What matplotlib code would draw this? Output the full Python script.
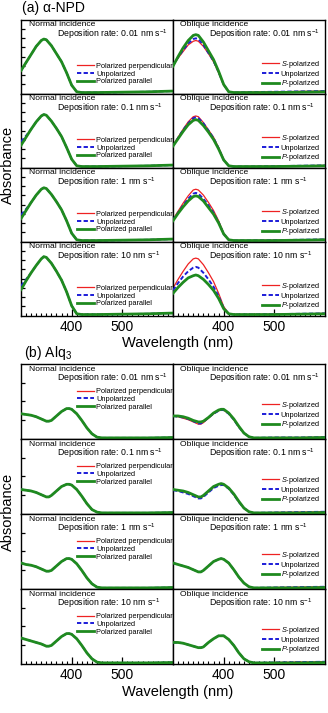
import numpy as np
import matplotlib
matplotlib.use("Agg")
import matplotlib.pyplot as plt

plt.rcParams['font.family'] = ['Liberation Sans', 'DejaVu Sans']
plt.rcParams['mathtext.fontset'] = 'custom'
plt.rcParams['mathtext.rm'] = 'Liberation Sans'
plt.rcParams['mathtext.it'] = 'Liberation Sans:italic'

# ---------------- data ----------------
rates = ["0.01", "0.1", "1", "10"]

normal_labels = ["Polarized perpendicular", "Unpolarized", "Polarized parallel"]
oblique_labels = ["$S$-polarized", "Unpolarized", "$P$-polarized"]

# alpha-NPD wavelengths (nm)
wl_npd = [300, 310, 320, 330, 340, 345, 350, 360, 370, 380, 390, 400, 410, 420, 450, 500, 550, 600]

# alpha-NPD, normal incidence (perpendicular, unpolarized, parallel) per deposition rate
npd_norm_perp = [
    [0.31, 0.42, 0.53, 0.64, 0.72, 0.74, 0.73, 0.65, 0.54, 0.43, 0.28, 0.11, 0.02, 0.01, 0.01, 0.015, 0.02, 0.03],
    [0.30, 0.41, 0.52, 0.62, 0.70, 0.72, 0.71, 0.63, 0.53, 0.42, 0.27, 0.11, 0.02, 0.01, 0.01, 0.015, 0.02, 0.03],
    [0.31, 0.42, 0.53, 0.63, 0.71, 0.73, 0.72, 0.64, 0.54, 0.43, 0.28, 0.11, 0.02, 0.01, 0.01, 0.015, 0.02, 0.03],
    [0.36, 0.47, 0.58, 0.68, 0.77, 0.80, 0.79, 0.71, 0.60, 0.48, 0.32, 0.13, 0.02, 0.01, 0.01, 0.015, 0.02, 0.03],
]
npd_norm_unpol = [
    [0.31, 0.42, 0.53, 0.64, 0.72, 0.74, 0.73, 0.65, 0.54, 0.43, 0.28, 0.11, 0.02, 0.01, 0.01, 0.015, 0.02, 0.03],
    [0.35, 0.43, 0.52, 0.62, 0.70, 0.72, 0.71, 0.63, 0.53, 0.42, 0.27, 0.11, 0.02, 0.01, 0.01, 0.015, 0.02, 0.03],
    [0.36, 0.44, 0.53, 0.63, 0.71, 0.73, 0.72, 0.64, 0.54, 0.43, 0.28, 0.11, 0.02, 0.01, 0.01, 0.015, 0.02, 0.03],
    [0.40, 0.49, 0.58, 0.68, 0.77, 0.80, 0.79, 0.71, 0.60, 0.48, 0.32, 0.13, 0.02, 0.01, 0.01, 0.015, 0.02, 0.03],
]
npd_norm_par = [
    [0.31, 0.42, 0.53, 0.64, 0.72, 0.74, 0.73, 0.65, 0.54, 0.43, 0.28, 0.11, 0.02, 0.01, 0.01, 0.015, 0.02, 0.03],
    [0.30, 0.41, 0.52, 0.62, 0.70, 0.72, 0.71, 0.63, 0.53, 0.42, 0.27, 0.11, 0.02, 0.01, 0.01, 0.015, 0.02, 0.03],
    [0.31, 0.42, 0.53, 0.63, 0.71, 0.73, 0.72, 0.64, 0.54, 0.43, 0.28, 0.11, 0.02, 0.01, 0.01, 0.015, 0.02, 0.03],
    [0.35, 0.47, 0.58, 0.68, 0.77, 0.80, 0.79, 0.71, 0.60, 0.48, 0.32, 0.13, 0.02, 0.01, 0.01, 0.015, 0.02, 0.03],
]

# alpha-NPD, oblique incidence (S, unpolarized, P)
npd_obl_s = [
    [0.38, 0.48, 0.57, 0.66, 0.71, 0.72, 0.71, 0.64, 0.54, 0.43, 0.28, 0.11, 0.02, 0.01, 0.015, 0.02, 0.025, 0.03],
    [0.30, 0.41, 0.52, 0.62, 0.69, 0.70, 0.69, 0.61, 0.51, 0.41, 0.27, 0.11, 0.02, 0.01, 0.01, 0.015, 0.02, 0.025],
    [0.30, 0.41, 0.52, 0.62, 0.70, 0.71, 0.70, 0.63, 0.53, 0.42, 0.28, 0.11, 0.02, 0.01, 0.01, 0.015, 0.02, 0.025],
    [0.37, 0.49, 0.60, 0.70, 0.77, 0.78, 0.77, 0.69, 0.58, 0.46, 0.30, 0.12, 0.02, 0.01, 0.01, 0.015, 0.02, 0.025],
]
npd_obl_unpol = [
    [0.38, 0.49, 0.59, 0.68, 0.74, 0.75, 0.74, 0.66, 0.55, 0.44, 0.29, 0.12, 0.02, 0.01, 0.015, 0.02, 0.025, 0.03],
    [0.29, 0.40, 0.51, 0.60, 0.67, 0.68, 0.67, 0.60, 0.50, 0.40, 0.26, 0.10, 0.02, 0.01, 0.01, 0.015, 0.02, 0.025],
    [0.29, 0.39, 0.49, 0.58, 0.65, 0.66, 0.65, 0.58, 0.49, 0.39, 0.26, 0.10, 0.02, 0.01, 0.01, 0.015, 0.02, 0.025],
    [0.34, 0.44, 0.53, 0.60, 0.65, 0.66, 0.65, 0.58, 0.49, 0.39, 0.26, 0.10, 0.02, 0.01, 0.01, 0.015, 0.02, 0.025],
]
npd_obl_p = [
    [0.37, 0.50, 0.62, 0.72, 0.79, 0.80, 0.79, 0.70, 0.58, 0.46, 0.30, 0.12, 0.02, 0.01, 0.01, 0.01, 0.015, 0.02],
    [0.29, 0.39, 0.49, 0.58, 0.64, 0.65, 0.64, 0.57, 0.48, 0.38, 0.25, 0.10, 0.02, 0.01, 0.01, 0.01, 0.015, 0.02],
    [0.28, 0.38, 0.47, 0.55, 0.61, 0.62, 0.61, 0.55, 0.46, 0.37, 0.25, 0.10, 0.02, 0.01, 0.01, 0.01, 0.015, 0.02],
    [0.30, 0.38, 0.45, 0.51, 0.54, 0.55, 0.54, 0.49, 0.42, 0.34, 0.23, 0.09, 0.02, 0.01, 0.01, 0.01, 0.015, 0.02],
]

# Alq3 wavelengths (nm)
wl_alq = [300, 310, 320, 330, 340, 350, 355, 360, 370, 380, 390, 395, 400, 410, 420, 430, 440, 450, 460, 500, 550, 600]

# Alq3 normal incidence (all three polarizations coincide)
alq_norm = [
    [0.33, 0.32, 0.31, 0.29, 0.26, 0.23, 0.23, 0.24, 0.30, 0.36, 0.40, 0.40, 0.39, 0.33, 0.24, 0.14, 0.06, 0.015, 0.005, 0.005, 0.005, 0.01],
    [0.32, 0.31, 0.30, 0.28, 0.25, 0.22, 0.22, 0.24, 0.30, 0.36, 0.39, 0.39, 0.38, 0.32, 0.23, 0.13, 0.05, 0.015, 0.005, 0.005, 0.005, 0.01],
    [0.34, 0.32, 0.31, 0.29, 0.26, 0.23, 0.23, 0.24, 0.30, 0.36, 0.40, 0.40, 0.39, 0.33, 0.24, 0.14, 0.06, 0.015, 0.005, 0.005, 0.005, 0.01],
    [0.34, 0.32, 0.30, 0.28, 0.26, 0.23, 0.23, 0.24, 0.30, 0.36, 0.40, 0.40, 0.39, 0.33, 0.24, 0.14, 0.06, 0.015, 0.005, 0.005, 0.005, 0.01],
]

# Alq3 oblique incidence (S, unpolarized, P)
alq_obl_s = [
    [0.30, 0.29, 0.27, 0.25, 0.22, 0.19, 0.19, 0.21, 0.27, 0.33, 0.37, 0.38, 0.38, 0.33, 0.25, 0.15, 0.07, 0.02, 0.005, 0.01, 0.01, 0.015],
    [0.32, 0.31, 0.29, 0.27, 0.24, 0.21, 0.21, 0.23, 0.29, 0.35, 0.39, 0.39, 0.39, 0.34, 0.25, 0.15, 0.07, 0.02, 0.005, 0.01, 0.015, 0.02],
    [0.34, 0.32, 0.30, 0.28, 0.25, 0.22, 0.22, 0.24, 0.30, 0.36, 0.39, 0.40, 0.39, 0.34, 0.25, 0.15, 0.07, 0.02, 0.005, 0.01, 0.015, 0.02],
    [0.29, 0.28, 0.27, 0.25, 0.23, 0.21, 0.21, 0.22, 0.28, 0.33, 0.37, 0.37, 0.37, 0.32, 0.24, 0.14, 0.06, 0.02, 0.005, 0.01, 0.015, 0.02],
]
alq_obl_unpol = [
    [0.30, 0.29, 0.28, 0.26, 0.23, 0.20, 0.20, 0.22, 0.28, 0.33, 0.37, 0.38, 0.38, 0.33, 0.25, 0.15, 0.07, 0.02, 0.005, 0.01, 0.01, 0.015],
    [0.31, 0.30, 0.28, 0.26, 0.23, 0.20, 0.20, 0.22, 0.28, 0.34, 0.37, 0.38, 0.38, 0.33, 0.25, 0.15, 0.07, 0.02, 0.005, 0.01, 0.015, 0.02],
    [0.34, 0.32, 0.30, 0.28, 0.25, 0.22, 0.22, 0.24, 0.30, 0.36, 0.39, 0.40, 0.39, 0.34, 0.25, 0.15, 0.07, 0.02, 0.005, 0.01, 0.015, 0.02],
    [0.28, 0.28, 0.27, 0.25, 0.23, 0.21, 0.21, 0.22, 0.28, 0.33, 0.37, 0.37, 0.37, 0.32, 0.24, 0.14, 0.06, 0.02, 0.005, 0.01, 0.015, 0.02],
]
alq_obl_p = [
    [0.30, 0.30, 0.29, 0.27, 0.24, 0.22, 0.22, 0.23, 0.28, 0.34, 0.38, 0.39, 0.39, 0.34, 0.26, 0.16, 0.07, 0.02, 0.005, 0.005, 0.005, 0.01],
    [0.32, 0.31, 0.30, 0.28, 0.25, 0.22, 0.22, 0.24, 0.30, 0.36, 0.39, 0.40, 0.39, 0.34, 0.26, 0.16, 0.07, 0.02, 0.005, 0.005, 0.005, 0.01],
    [0.34, 0.32, 0.30, 0.28, 0.25, 0.22, 0.22, 0.24, 0.30, 0.36, 0.39, 0.40, 0.39, 0.34, 0.25, 0.15, 0.07, 0.02, 0.005, 0.005, 0.005, 0.01],
    [0.28, 0.28, 0.27, 0.25, 0.23, 0.21, 0.21, 0.22, 0.28, 0.33, 0.37, 0.37, 0.37, 0.32, 0.24, 0.14, 0.06, 0.02, 0.005, 0.005, 0.005, 0.01],
]

xticks = [400, 500]

# ---------------- style ----------------
W, H = 328, 713
RED, BLUE, GREEN = '#ee2222', '#1c1cd8', '#1f8a1f'
fig = plt.figure(figsize=(W / 100, H / 100), dpi=100)

def rect(x0, y0, x1, y1):
    return [x0 / W, 1 - y1 / H, (x1 - x0) / W, (y1 - y0) / H]

col_x = [(21, 173), (173, 325)]

def draw_block(top, bottom, wl, curves, yticks, leg_y, txt_y):
    rowh = (bottom - top) / 4
    for r in range(4):
        for c in range(2):
            y0 = top + r * rowh
            ax = fig.add_axes(rect(col_x[c][0], y0, col_x[c][1], y0 + rowh))
            ys = curves[c]
            labels = normal_labels if c == 0 else oblique_labels
            ax.plot(wl, ys[0][r], color=RED, lw=0.9, label=labels[0], zorder=2)
            ax.plot(wl, ys[1][r], color=BLUE, lw=1.4, ls=(0, (2.2, 1.2)), label=labels[1], zorder=3)
            ax.plot(wl, ys[2][r], color=GREEN, lw=2.0, label=labels[2], zorder=4)
            ax.set_xlim(300, 600)
            ax.set_ylim(-0.01, 1)
            for s in ax.spines.values():
                s.set_linewidth(1.0)
            ax.set_yticks(yticks)
            ax.set_yticklabels([])
            if c == 0:
                ax.tick_params(axis='y', direction='in', length=3, width=0.9, left=True)
            else:
                ax.tick_params(axis='y', left=False)
            if r == 3:
                ax.set_xticks(xticks)
                ax.set_xticks(np.arange(300, 601, 10), minor=True)
                ax.tick_params(axis='x', which='major', direction='in', length=5, width=0.9,
                               labelsize=10, pad=3)
                ax.tick_params(axis='x', which='minor', direction='in', length=2.5, width=0.8)
            else:
                ax.set_xticks([])
            head = "Normal incidence" if c == 0 else "Oblique incidence"
            hx = 0.053 if c == 0 else 0.048
            ax.text(hx, txt_y[0], head, transform=ax.transAxes, fontsize=6.1, va='center', ha='left')
            ax.text(0.24, txt_y[1], "Deposition rate: " + rates[r] + r" nm s$^{-1}$",
                    transform=ax.transAxes, fontsize=6.3, va='center', ha='left')
            lx = 0.37 if c == 0 else 0.585
            ax.legend(loc='center left', bbox_to_anchor=(lx, leg_y[c]), frameon=False,
                      fontsize=5.3, handlelength=2.3, handletextpad=0.25, labelspacing=0.08,
                      borderpad=0, borderaxespad=0)

# (a) alpha-NPD
fig.text(22 / W, 1 - 8 / H, "(a) α-NPD", fontsize=10, ha='left', va='center')
draw_block(20, 316, wl_npd,
           [[npd_norm_perp, npd_norm_unpol, npd_norm_par], [npd_obl_s, npd_obl_unpol, npd_obl_p]],
           np.arange(0.125, 1.0, 0.125), leg_y=(0.27, 0.27), txt_y=(0.94, 0.81))
fig.text(178 / W, 1 - 343 / H, "Wavelength (nm)", fontsize=10.5, ha='center', va='center')
fig.text(8 / W, 1 - 165 / H, "Absorbance", fontsize=10.5, rotation=90, ha='center', va='center')

# (b) Alq3
fig.text(24 / W, 1 - 353 / H, "(b) Alq$_3$", fontsize=10, ha='left', va='center')
draw_block(364, 664, wl_alq,
           [[alq_norm, alq_norm, alq_norm], [alq_obl_s, alq_obl_unpol, alq_obl_p]],
           np.arange(0.25, 1.0, 0.25), leg_y=(0.53, 0.32), txt_y=(0.93, 0.81))
fig.text(178 / W, 1 - 692 / H, "Wavelength (nm)", fontsize=10.5, ha='center', va='center')
fig.text(8 / W, 1 - 512 / H, "Absorbance", fontsize=10.5, rotation=90, ha='center', va='center')

fig.savefig("out.png", dpi=100)
